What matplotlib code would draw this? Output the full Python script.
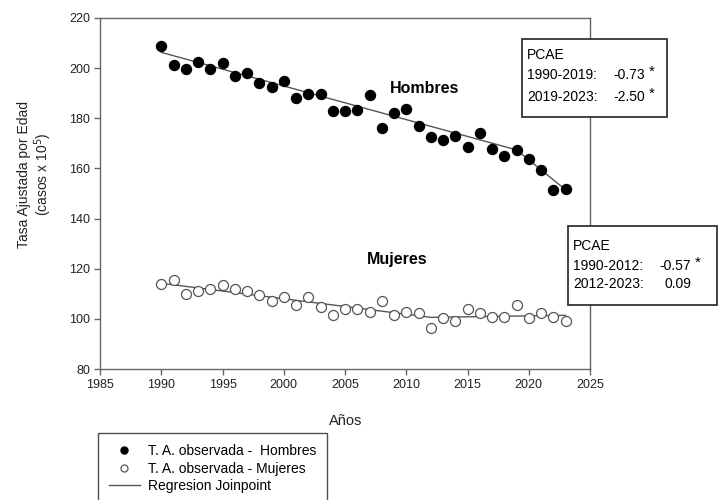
import matplotlib
matplotlib.use("Agg")
import matplotlib.pyplot as plt
from matplotlib.patches import Rectangle

plt.rcParams["font.family"] = ["Liberation Sans", "DejaVu Sans"]

years = list(range(1990, 2024))

hombres = [209.0, 201.2, 199.8, 202.3, 199.5, 202.0, 196.7, 198.0, 194.0, 192.4,
           194.9, 188.1, 189.7, 189.7, 182.8, 182.9, 183.3, 189.3, 176.2, 182.2,
           183.8, 176.8, 172.5, 171.2, 172.9, 168.4, 174.0, 167.7, 164.8, 167.5,
           163.6, 159.5, 151.4, 151.7]

mujeres = [113.9, 115.4, 109.8, 111.0, 112.0, 113.5, 111.8, 111.2, 109.5, 107.1,
           108.6, 105.5, 108.9, 104.6, 101.4, 103.9, 103.8, 102.7, 107.2, 101.4,
           102.7, 102.5, 96.3, 100.5, 99.3, 103.9, 102.2, 100.9, 100.6, 105.4,
           100.5, 102.5, 100.9, 99.2]

# joinpoint fits (values read at the joinpoints)
hombres_jp_years = [1990, 2019, 2023]
hombres_jp = [206.3, 167.4, 151.5]
mujeres_jp_years = [1990, 2012, 2023]
mujeres_jp = [114.2, 100.6, 101.4]

pcae_h = [("1990-2019:", "-0.73", True), ("2019-2023:", "-2.50", True)]
pcae_m = [("1990-2012:", "-0.57", True), ("2012-2023:", "0.09", False)]

W, H = 720, 500
fig = plt.figure(figsize=(7.2, 5.0), dpi=100)
ax = fig.add_axes([100 / W, 1 - 369 / H, 490 / W, 351 / H])

gray = "#666666"
line_col = "#555555"

p1, = ax.plot(years, hombres, "o", color="black", ms=7.2, ls="none", zorder=3)
p2, = ax.plot(years, mujeres, "o", mfc="white", mec="#555555", mew=0.9, ms=7.2,
              ls="none", zorder=3)
l1, = ax.plot(hombres_jp_years, hombres_jp, color=line_col, lw=1.0, zorder=2)
ax.plot(mujeres_jp_years, mujeres_jp, color=line_col, lw=1.0, zorder=2)

ax.set_xlim(1985, 2025)
ax.set_ylim(80, 220)
ax.set_xticks(range(1985, 2026, 5))
ax.set_yticks(range(80, 221, 20))
for s in ax.spines.values():
    s.set_color(gray)
    s.set_linewidth(1.0)
ax.tick_params(direction="out", length=4, width=1.0, color=gray,
               labelsize=9, labelcolor="#222222", pad=3)

ax.text(2011.5, 192, "Hombres", fontsize=11.5, fontweight="bold",
        ha="center", va="center")
ax.text(2009.3, 123.5, "Mujeres", fontsize=11.5, fontweight="bold",
        ha="center", va="center")

fig.text(24 / W, 1 - 174 / H, "Tasa Ajustada por Edad", rotation=90,
         fontsize=10, ha="center", va="center", color="#222222")
fig.text(43 / W, 1 - 174 / H, "(casos x 10$^5$)", rotation=90,
         fontsize=10, ha="center", va="center", color="#222222")
fig.text(346 / W, 1 - 421 / H, "Años", fontsize=10.5, ha="center",
         va="center", color="#222222")


def pcae_box(x0, y0, x1, y1, title_y, rows_y, rows, val_right, star_x):
    rect = Rectangle((x0 / W, 1 - y1 / H), (x1 - x0) / W, (y1 - y0) / H,
                     transform=fig.transFigure, facecolor="white",
                     edgecolor="#222222", lw=1.2, zorder=5)
    fig.add_artist(rect)
    fig.text((x0 + 5) / W, 1 - title_y / H, "PCAE", fontsize=10,
             va="center", ha="left", zorder=6)
    for (per, val, sig), yy in zip(rows, rows_y):
        fig.text((x0 + 5) / W, 1 - yy / H, per, fontsize=10,
                 va="center", ha="left", zorder=6)
        fig.text(val_right / W, 1 - yy / H, val, fontsize=10,
                 va="center", ha="right", zorder=6)
        if sig:
            fig.text(star_x / W, 1 - (yy - 3) / H, "*", fontsize=11,
                     va="center", ha="center", zorder=6)


pcae_box(522, 39, 667, 117, 55, [75, 97], pcae_h, 645, 652)
pcae_box(568, 226, 717, 305, 246, [266, 284], pcae_m, 691, 698)

leg = fig.legend([p1, p2, l1],
                 ["T. A. observada -  Hombres", "T. A. observada - Mujeres",
                  "Regresion Joinpoint"],
                 loc="upper left", bbox_to_anchor=(98 / W, 1 - 433 / H),
                 fontsize=10, frameon=True, fancybox=False, markerscale=0.7,
                 borderpad=0.8, labelspacing=0.25, handlelength=2.2,
                 handletextpad=0.6, borderaxespad=0)
leg.get_frame().set_edgecolor("#222222")
leg.get_frame().set_linewidth(1.0)

fig.savefig("out.png", dpi=100)
